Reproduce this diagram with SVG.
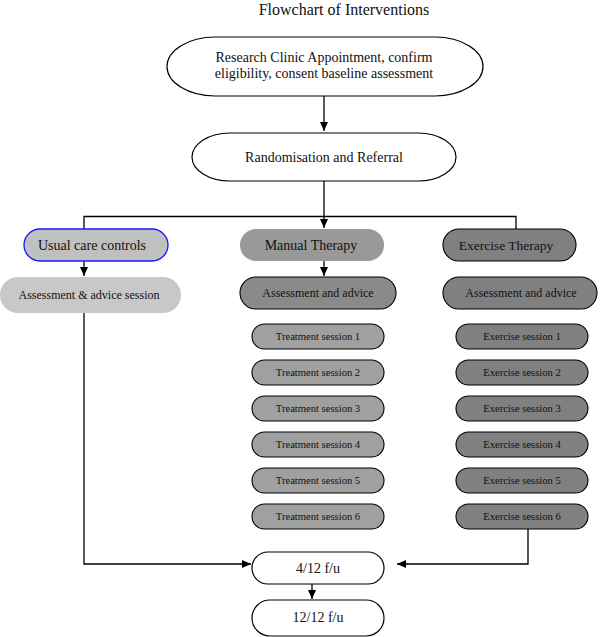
<svg xmlns="http://www.w3.org/2000/svg" width="600" height="637" viewBox="0 0 600 637">
<defs>
<marker id="ah" markerWidth="10" markerHeight="10" refX="9" refY="5" orient="auto" markerUnits="userSpaceOnUse">
<path d="M0,1 L9,5 L0,9 Z" fill="#000"/>
</marker>
<style>
text{font-family:"Liberation Serif","Times New Roman",serif;fill:#111;text-anchor:middle;dominant-baseline:central}
.t14{font-size:14px}
.t12{font-size:12px}
.t11{font-size:10.6px}
.wh{fill:#fff;stroke:#000;stroke-width:1.2}
.ln{fill:none;stroke:#000;stroke-width:1.3}
.tr{fill:#a0a0a0;stroke:#000;stroke-width:1.1}
.ex{fill:#808080;stroke:#000;stroke-width:1.1}
</style>
</defs>
<rect width="600" height="637" fill="#fff"/>
<text x="344" y="9" style="font-size:16px">Flowchart of Interventions</text>

<g id="connectors">
<line class="ln" x1="324" y1="96" x2="324" y2="131" marker-end="url(#ah)"/>
<line class="ln" x1="324" y1="181" x2="324" y2="228" marker-end="url(#ah)"/>
<polyline class="ln" points="84,229 84,216.5 516,216.5 516,229"/>
<line class="ln" x1="84" y1="261" x2="84" y2="276" marker-end="url(#ah)"/>
<line class="ln" x1="324" y1="261" x2="324" y2="276" marker-end="url(#ah)"/>
<polyline class="ln" points="84,313 84,564 251,564" marker-end="url(#ah)"/>
<polyline class="ln" points="528,529 528,564 397,564" marker-end="url(#ah)"/>
<line class="ln" x1="312" y1="584" x2="312" y2="599" marker-end="url(#ah)"/>
</g>

<g id="n-research"><rect class="wh" x="167" y="37" width="316" height="59" rx="48" ry="29.5"/>
<text class="t14" x="324" y="57">Research Clinic Appointment, confirm</text>
<text class="t14" x="324" y="73">eligibility, consent baseline assessment</text></g>

<g id="n-random"><rect class="wh" x="192" y="133" width="264" height="48" rx="38" ry="24"/>
<text class="t14" x="324" y="157">Randomisation and Referral</text></g>

<g id="n-usual"><rect x="24" y="229" width="144" height="32" rx="16" fill="#c0c0c0" stroke="#1a1aff" stroke-width="1.3"/>
<text class="t14" x="92" y="245">Usual care controls</text></g>

<g id="n-usual-assess"><rect x="0" y="277" width="181" height="36" rx="18" fill="#c8c8c8"/>
<text class="t12" x="89" y="295">Assessment &amp; advice session</text></g>

<g id="n-manual"><rect x="240" y="229" width="144" height="32" rx="16" fill="#999"/>
<text class="t14" x="311" y="245">Manual Therapy</text></g>

<g id="n-manual-assess"><rect x="240" y="277" width="156" height="32" rx="16" fill="#8a8a8a" stroke="#000" stroke-width="1.1"/>
<text class="t12" x="318" y="293">Assessment and advice</text></g>

<g id="n-exercise"><rect x="443" y="229" width="133" height="32" rx="16" fill="#808080" stroke="#000" stroke-width="1.1"/>
<text class="t14" x="506" y="245" style="font-size:13.5px">Exercise Therapy</text></g>

<g id="n-exercise-assess"><rect x="443" y="277" width="154" height="32" rx="16" fill="#808080" stroke="#000" stroke-width="1.1"/>
<text class="t12" x="521" y="293">Assessment and advice</text></g>

<g id="n-t1"><rect class="tr" x="252" y="324" width="132" height="25" rx="12.5"/><text class="t11" x="318" y="336.5">Treatment session 1</text></g>
<g id="n-t2"><rect class="tr" x="252" y="360" width="132" height="25" rx="12.5"/><text class="t11" x="318" y="372.5">Treatment session 2</text></g>
<g id="n-t3"><rect class="tr" x="252" y="396" width="132" height="25" rx="12.5"/><text class="t11" x="318" y="408.5">Treatment session 3</text></g>
<g id="n-t4"><rect class="tr" x="252" y="432" width="132" height="25" rx="12.5"/><text class="t11" x="318" y="444.5">Treatment session 4</text></g>
<g id="n-t5"><rect class="tr" x="252" y="468" width="132" height="25" rx="12.5"/><text class="t11" x="318" y="480.5">Treatment session 5</text></g>
<g id="n-t6"><rect class="tr" x="252" y="504" width="132" height="25" rx="12.5"/><text class="t11" x="318" y="516.5">Treatment session 6</text></g>

<g id="n-e1"><rect class="ex" x="456" y="324" width="132" height="25" rx="12.5"/><text class="t11" x="522" y="336.5">Exercise session 1</text></g>
<g id="n-e2"><rect class="ex" x="456" y="360" width="132" height="25" rx="12.5"/><text class="t11" x="522" y="372.5">Exercise session 2</text></g>
<g id="n-e3"><rect class="ex" x="456" y="396" width="132" height="25" rx="12.5"/><text class="t11" x="522" y="408.5">Exercise session 3</text></g>
<g id="n-e4"><rect class="ex" x="456" y="432" width="132" height="25" rx="12.5"/><text class="t11" x="522" y="444.5">Exercise session 4</text></g>
<g id="n-e5"><rect class="ex" x="456" y="468" width="132" height="25" rx="12.5"/><text class="t11" x="522" y="480.5">Exercise session 5</text></g>
<g id="n-e6"><rect class="ex" x="456" y="504" width="132" height="25" rx="12.5"/><text class="t11" x="522" y="516.5">Exercise session 6</text></g>

<g id="n-fu4"><rect class="wh" x="252" y="552" width="132" height="32" rx="16"/>
<text class="t14" x="318" y="568">4/12 f/u</text></g>

<g id="n-fu12"><rect class="wh" x="252" y="600" width="132" height="36" rx="18"/>
<text class="t14" x="318" y="617">12/12 f/u</text></g>
</svg>
